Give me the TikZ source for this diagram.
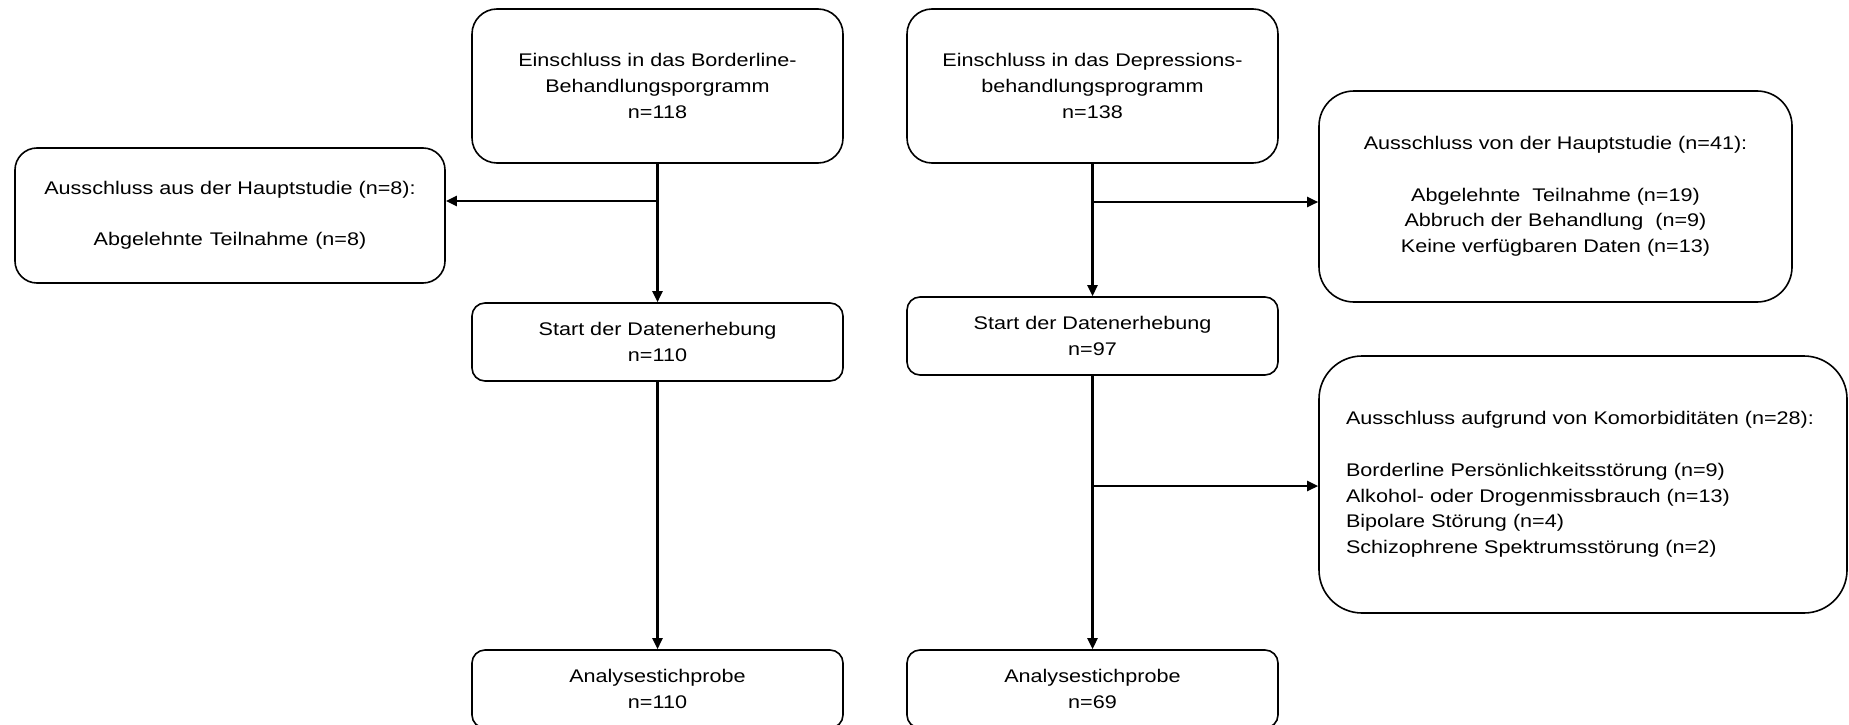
\documentclass[tikz,border=0pt]{standalone}
\usepackage{fontspec}
\setmainfont{Liberation Sans}[FakeStretch=1.18]
\usetikzlibrary{arrows.meta}
\tikzset{
  box/.style={draw=black, line width=1.6pt, fill=white, align=center, inner sep=0pt,
    font=\fontsize{18.3}{25.7}\selectfont},
  arr/.style={line width=2.4pt, -{Triangle[length=11pt,width=10pt]}}
}
\begin{document}
\begin{tikzpicture}[x=1pt,y=-1pt]
\useasboundingbox (0,0) rectangle (1849,725);
\node[box, minimum width=371pt, minimum height=154pt, rounded corners=25pt] (b1) at (657.5,86)
  {Einschluss in das Borderline-\\Behandlungsporgramm\\n=118};
\node[box, minimum width=371pt, minimum height=154pt, rounded corners=25pt] (d1) at (1092.5,86)
  {Einschluss in das Depressions-\\behandlungsprogramm\\n=138};
\node[box, minimum width=430pt, minimum height=135pt, rounded corners=22pt] (ex0) at (230,215.5)
  {Ausschluss aus der Hauptstudie (n=8):\\[25.7pt]Abgelehnte\ \kern1pt Teilnahme\ \kern1pt (n=8)};
\node[box, minimum width=371pt, minimum height=78pt, rounded corners=13pt] (sb) at (657.5,342)
  {Start der Datenerhebung\\n=110};
\node[box, minimum width=371pt, minimum height=78pt, rounded corners=13pt] (sd) at (1092.5,336)
  {Start der Datenerhebung\\n=97};
\node[box, minimum width=473pt, minimum height=211pt, rounded corners=35pt] (ex1) at (1555.5,196.5)
  {Ausschluss von der Hauptstudie (n=41):\\[25.7pt]Abgelehnte\ \ Teilnahme (n=19)\\Abbruch der Behandlung\ \ (n=9)\\Keine verfügbaren Daten (n=13)};
\node[box, minimum width=528pt, minimum height=257pt, rounded corners=43pt, align=left,
  inner xsep=27pt, text width=474pt] (ex2) at (1583,484.5)
  {Ausschluss aufgrund von Komorbiditäten (n=28):\\[25.7pt]Borderline Persönlichkeitsstörung (n=9)\\Alkohol- oder Drogenmissbrauch (n=13)\\Bipolare Störung (n=4)\\Schizophrene Spektrumsstörung (n=2)};
\node[box, minimum width=371pt, minimum height=78pt, rounded corners=13pt] (ab) at (657.5,689)
  {Analysestichprobe\\n=110};
\node[box, minimum width=371pt, minimum height=78pt, rounded corners=13pt] (ad) at (1092.5,689)
  {Analysestichprobe\\n=69};
\coordinate (j0) at (657.5,201);
\coordinate (j1) at (1092.5,202);
\coordinate (j2) at (1092.5,486);
\draw[arr] (b1.south) -- (sb.north);
\draw[arr] (j0) -- (j0 -| ex0.east);
\draw[arr] (sb.south) -- (ab.north);
\draw[arr] (d1.south) -- (sd.north);
\draw[arr] (j1) -- (j1 -| ex1.west);
\draw[arr] (sd.south) -- (ad.north);
\draw[arr] (j2) -- (j2 -| ex2.west);
\end{tikzpicture}
\end{document}
